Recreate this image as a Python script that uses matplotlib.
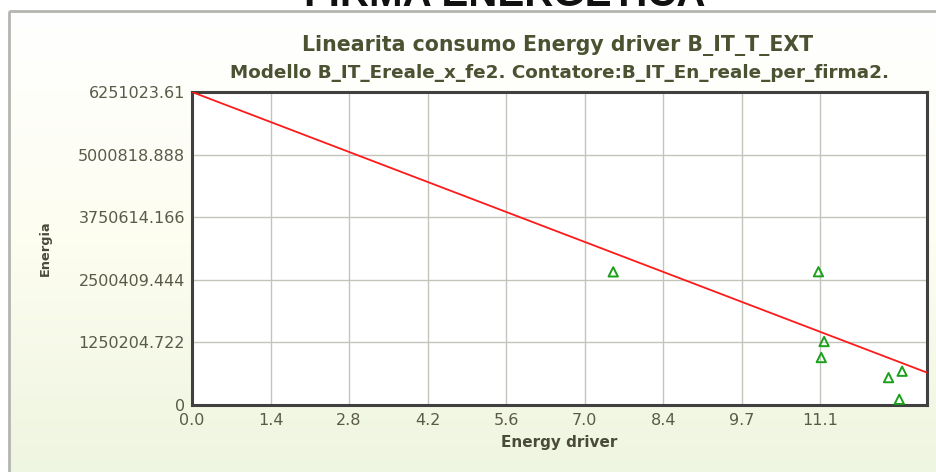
import matplotlib.pyplot as plt
from matplotlib.patches import Rectangle
from matplotlib.colors import LinearSegmentedColormap
import numpy as np

# data
x_step = 1.3889
x_max = 13.0
x_tick_labels = ["0.0", "1.4", "2.8", "4.2", "5.6", "7.0", "8.4", "9.7", "11.1"]
y_max = 6251023.61
y_ticks = [0, 1250204.722, 2500409.444, 3750614.166, 5000818.888, 6251023.61]
y_tick_labels = ["0", "1250204.722", "2500409.444", "3750614.166", "5000818.888", "6251023.61"]

pts_x = [7.45, 11.08, 11.18, 11.13, 12.32, 12.56, 12.51]
pts_y = [2659000, 2662000, 1268000, 948000, 547000, 675000, 114000]

line_x = [0.0, 13.0]
line_y = [6251023.61, 647000]

W, H = 936, 472
fig = plt.figure(figsize=(W / 100, H / 100), dpi=100)
fig.patch.set_facecolor("white")

# panel background with gradient
bg = fig.add_axes([0, 0, 1, 1])
bg.set_xlim(0, W)
bg.set_ylim(H, 0)
bg.axis("off")
cmap = LinearSegmentedColormap.from_list("g", ["#ffffff", "#fdfdf0", "#eef5e0"])
grad = np.linspace(0, 1, 200).reshape(-1, 1)
bg.imshow(grad, cmap=cmap, extent=[9, W + 5, H + 5, 11], aspect="auto", zorder=0)
bg.add_patch(Rectangle((9, 11), W, H, fill=False, edgecolor="#b4b4b0", lw=2, zorder=1))
fig.text(505 / W, 1 - 6 / H, "FIRMA ENERGETICA", ha="center", va="baseline", fontsize=29,
         fontweight="bold", color="#111111", family="Liberation Sans", zorder=5)

# main axes: left 192, right 927, top 92, bottom 405
ax = fig.add_axes([192 / W, 1 - 405 / H, (927 - 192) / W, (405 - 92) / H])
ax.set_facecolor("white")
ax.set_xlim(0, x_max)
ax.set_ylim(0, y_max)

ax.plot(line_x, line_y, color="#ff1a1a", lw=1.3, zorder=3)
ax.scatter(pts_x, pts_y, marker="^", s=45, facecolors="none", edgecolors="#1aa01a",
           linewidths=1.4, zorder=4, clip_on=False)

ax.set_xticks([i * x_step for i in range(len(x_tick_labels))])
ax.set_xticklabels(x_tick_labels)
ax.set_yticks(y_ticks)
ax.set_yticklabels(y_tick_labels)
ax.tick_params(length=0, labelsize=11.5, labelcolor="#5a5a48")
ax.tick_params(axis="x", pad=6)
ax.tick_params(axis="y", pad=5)
ax.grid(True, color="#c4c4bc", lw=1)
ax.set_axisbelow(True)
for s in ax.spines.values():
    s.set_color("#404040")
    s.set_linewidth(2.2)

ax.set_xlabel("Energy driver", fontsize=11, fontweight="bold", color="#4a4a3a", labelpad=5)
ax.set_ylabel("Energia", fontsize=9.3, fontweight="bold", color="#4a4a3a", labelpad=0)
ax.yaxis.set_label_coords(-0.19, 0.5)

fig.text(558 / W, 1 - 45 / H, "Linearita consumo Energy driver B_IT_T_EXT", ha="center",
         va="center", fontsize=14.8, fontweight="bold", color="#4a5232")
fig.text(560 / W, 1 - 73 / H, "Modello B_IT_Ereale_x_fe2. Contatore:B_IT_En_reale_per_firma2.",
         ha="center", va="center", fontsize=13.2, fontweight="bold", color="#4a5232")

fig.savefig("out.png", dpi=100)
